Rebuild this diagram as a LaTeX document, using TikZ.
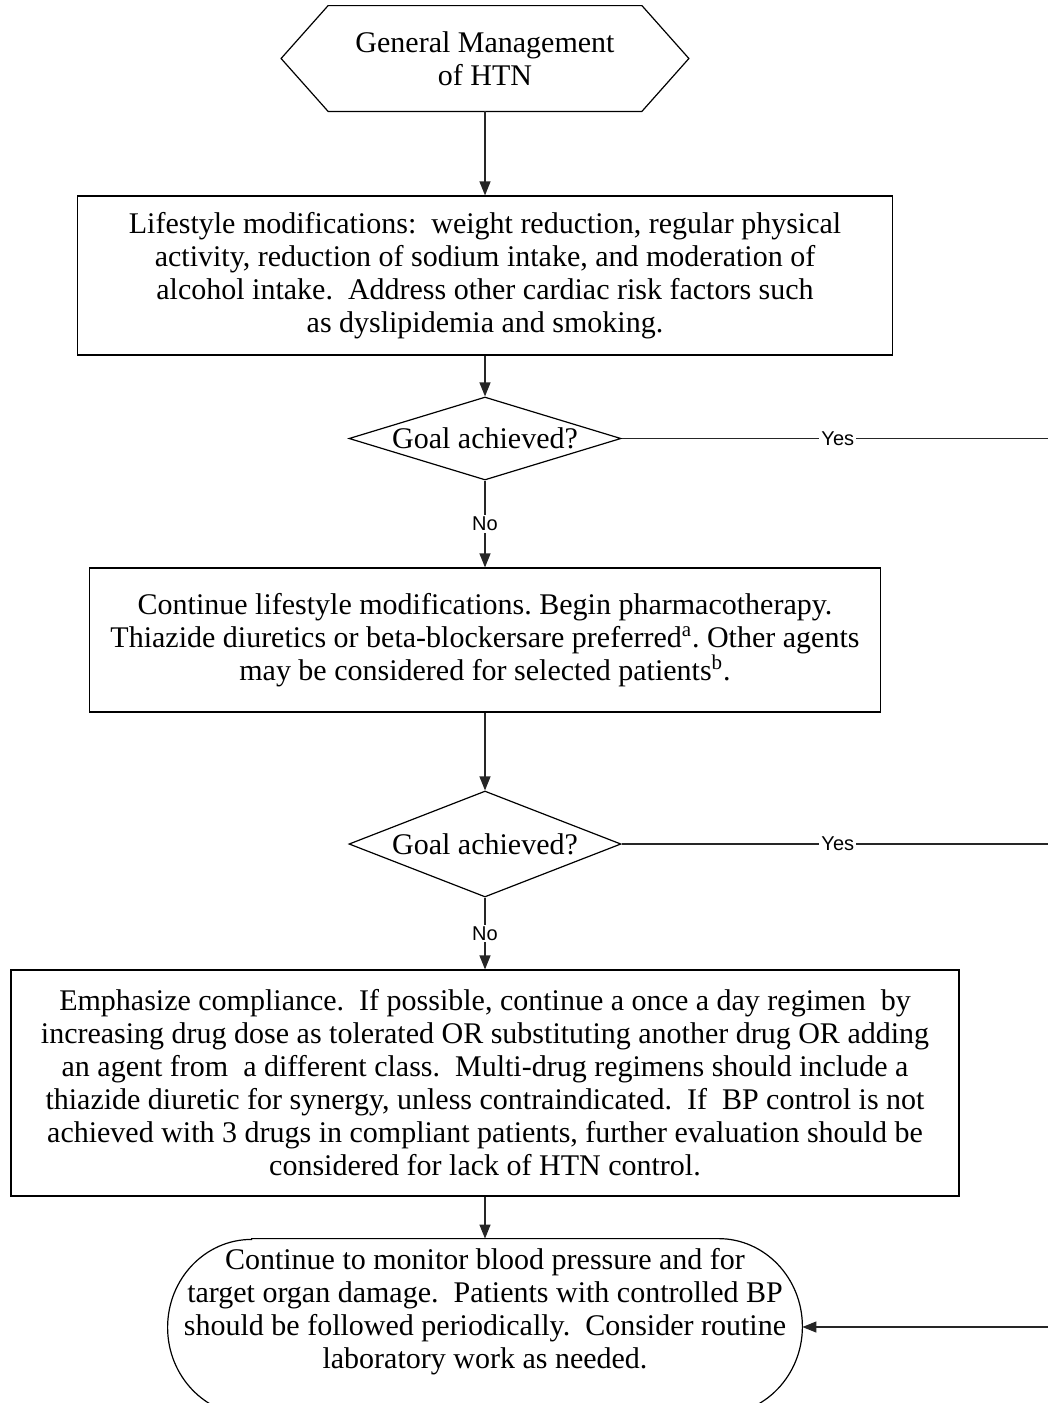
\documentclass[tikz,border=0pt]{standalone}
\usepackage{fontspec}
\setmainfont{Liberation Serif}
\newfontfamily\lblfont{Liberation Sans}
\usetikzlibrary{shapes.geometric,arrows.meta,calc}
\frenchspacing
\begin{document}
\begin{tikzpicture}[x=0.5pt,y=-0.5pt,
  txt/.style={font=\fontsize{15}{16.5}\selectfont, align=center, inner sep=0pt},
  outline/.style={draw=black, line width=0.6pt},
  procbox/.style={txt, outline},
  decision/.style={diamond, txt, outline, minimum width=136pt, aspect=3.3},
  conn/.style={line width=0.6pt, draw=black!85},
  arr/.style={conn, -{Triangle[length=7pt,width=5.5pt]}},
  lbl/.style={font=\lblfont\fontsize{10}{12}\selectfont, fill=white, inner sep=1pt, text=black},
]
\useasboundingbox (0,0) rectangle (1048,1403);

% start hexagon
\node[txt, minimum width=156.5pt, minimum height=52.5pt] (hex) at (485,58.5) {General Management\\of HTN};
\draw[outline] (hex.north west) -- (hex.north east) -- ($(hex.east)+(47,0)$) -- (hex.south east)
  -- (hex.south west) -- ($(hex.west)+(-47,0)$) -- cycle;

% lifestyle box
\node[procbox, minimum width=407.5pt, minimum height=79.5pt] (life) at (485,275.5)
  {Lifestyle modifications:\ \ weight reduction, regular physical\\
   activity, reduction of sodium intake, and moderation of\\
   alcohol intake.\ \ Address other cardiac risk factors such\\
   as dyslipidemia and smoking.};

\node[decision, minimum height=41.5pt] (goal1) at (485,438.5) {Goal achieved?};

\node[procbox, minimum width=395.5pt, minimum height=72pt] (drug) at (485,640)
  {Continue lifestyle modifications. Begin pharmacotherapy.\\
   Thiazide diuretics or beta-blockersare preferred\textsuperscript{a}. Other agents\\
   may be considered for selected patients\textsuperscript{b}.};

\node[decision, minimum height=53pt] (goal2) at (485,844) {Goal achieved?};

\node[procbox, minimum width=474pt, minimum height=113pt] (comply) at (485,1083)
  {Emphasize compliance.\ \ If possible, continue a once a day regimen\ \ by\\
   increasing drug dose as tolerated OR substituting another drug OR adding\\
   an agent from\ \ a different class.\ \ Multi-drug regimens should include a\\
   thiazide diuretic for synergy, unless contraindicated.\ \ If\ \ BP control is not\\
   achieved with 3 drugs in compliant patients, further evaluation should be\\
   considered for lack of HTN control.};

% terminator
\node[minimum width=317pt, minimum height=88pt, inner sep=0pt] (term) at (485,1327) {};
\node[txt] (termtext) at (485,1312)
  {Continue to monitor blood pressure and for\\
   target organ damage.\ \ Patients with controlled BP\\
   should be followed periodically.\ \ Consider routine\\
   laboratory work as needed.};
\draw[outline] ($(term.north west)+(84,0)$) -- ($(term.north east)+(-84,0)$)
  arc[start angle=90,end angle=-90,x radius=42pt,y radius=44pt]
  -- ($(term.south west)+(84,0)$)
  arc[start angle=270,end angle=90,x radius=42pt,y radius=44pt] -- cycle;

% connectors
\draw[arr] (hex.south) -- (life.north);
\draw[arr] (life.south) -- (goal1.north);
\draw[arr] (goal1.south) -- node[lbl]{No} (drug.north);
\draw[arr] (drug.south) -- (goal2.north);
\draw[arr] (goal2.south) -- node[lbl]{No} (comply.north);
\draw[arr] (comply.south) -- (term.north);

\coordinate (rt1) at (1054,438.5);
\coordinate (rt2) at (1054,844);
\draw[conn] (goal1.east) -- node[lbl]{Yes} (rt1) -- (rt2);
\draw[conn] (goal2.east) -- node[lbl]{Yes} (rt2);
\draw[arr] (rt2) |- (term.east);
\end{tikzpicture}
\end{document}
